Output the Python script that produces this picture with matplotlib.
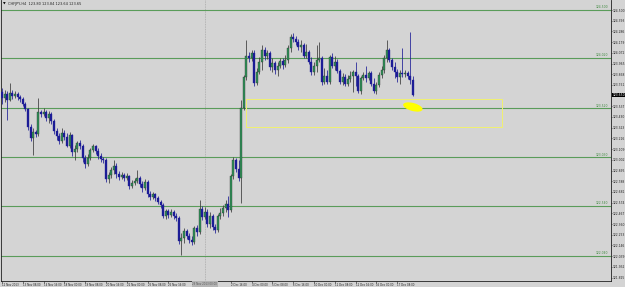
import matplotlib
matplotlib.use("Agg")
import matplotlib.pyplot as plt
from matplotlib.patches import Ellipse, Rectangle
from matplotlib.transforms import ScaledTranslation, blended_transform_factory
from matplotlib import font_manager

# ---------------- data (H4 candles) ----------------
opens = [123.68, 123.62, 123.66, 123.60, 123.67, 123.64, 123.66, 123.63, 123.61, 123.56,
         123.51, 123.33, 123.22, 123.28, 123.26, 123.48, 123.46, 123.48, 123.42, 123.46,
         123.39, 123.29, 123.24, 123.19, 123.27, 123.23, 123.14, 123.25, 123.08, 123.11,
         123.17, 123.14, 123.02, 122.96, 123.02, 123.10, 123.14, 123.09, 123.04, 123.01,
         123.00, 122.81, 122.85, 122.90, 122.94, 122.86, 122.83, 122.85, 122.82, 122.84,
         122.74, 122.77, 122.79, 122.82, 122.76, 122.72, 122.78, 122.66, 122.63, 122.66,
         122.62, 122.58, 122.55, 122.44, 122.49, 122.45, 122.48, 122.44, 122.42, 122.19,
         122.22, 122.29, 122.24, 122.20, 122.18, 122.32, 122.28, 122.51, 122.43, 122.48,
         122.36, 122.44, 122.33, 122.30, 122.44, 122.47, 122.52, 122.56, 122.50, 122.84,
         123.00, 122.91, 122.82, 123.52, 123.83, 124.04, 124.02, 124.07, 123.77, 123.88,
         123.98, 124.10, 124.04, 124.07, 123.93, 123.97, 123.90, 123.94, 123.99, 123.95,
         124.00, 124.12, 124.23, 124.21, 124.18, 124.13, 124.15, 124.04, 124.08, 123.98,
         123.88, 123.94, 124.00, 124.02, 123.78, 123.84, 123.78, 124.03, 123.94, 123.98,
         123.89, 123.78, 123.83, 123.76, 123.81, 123.84, 123.88, 123.84, 123.69, 123.82,
         123.85, 123.82, 123.87, 123.76, 123.69, 123.75, 123.85, 123.90, 124.02, 124.10,
         124.00, 123.93, 123.88, 123.83, 123.87, 123.86, 123.87, 123.84, 123.80]
highs = [123.72, 123.70, 123.69, 123.77, 123.70, 123.69, 123.68, 123.65, 123.63, 123.58,
         123.52, 123.36, 123.32, 123.30, 123.62, 123.50, 123.52, 123.50, 123.49, 123.48,
         123.41, 123.32, 123.27, 123.32, 123.30, 123.27, 123.28, 123.26, 123.15, 123.19,
         123.20, 123.16, 123.05, 123.06, 123.12, 123.16, 123.15, 123.12, 123.07, 123.03,
         123.02, 122.88, 122.93, 123.00, 122.97, 122.89, 122.88, 122.87, 122.87, 122.85,
         122.80, 122.82, 122.90, 122.84, 122.79, 122.81, 122.80, 122.69, 122.68, 122.67,
         122.64, 122.60, 122.57, 122.51, 122.51, 122.51, 122.50, 122.47, 122.44, 122.27,
         122.32, 122.31, 122.27, 122.24, 122.34, 122.35, 122.60, 122.54, 122.53, 122.51,
         122.48, 122.46, 122.36, 122.46, 122.52, 122.55, 122.60, 122.64, 122.86, 123.03,
         123.02, 123.00, 123.60, 123.85, 124.20, 124.08, 124.10, 124.10, 123.92, 124.03,
         124.15, 124.13, 124.10, 124.09, 124.02, 123.99, 123.98, 124.02, 124.02, 124.05,
         124.15, 124.26, 124.27, 124.24, 124.21, 124.20, 124.17, 124.16, 124.10, 124.03,
         123.98, 124.15, 124.18, 124.04, 123.92, 123.90, 124.05, 124.07, 124.04, 124.01,
         123.91, 123.87, 123.86, 123.85, 123.89, 123.90, 123.98, 123.86, 123.84, 123.88,
         123.94, 123.89, 123.89, 123.82, 123.78, 123.88, 123.94, 124.05, 124.20, 124.12,
         124.02, 123.98, 123.91, 123.90, 124.12, 123.90, 123.89, 124.28, 123.84]
lows = [123.56, 123.58, 123.40, 123.59, 123.61, 123.62, 123.60, 123.58, 123.54, 123.49,
        123.30, 123.19, 123.05, 123.23, 123.24, 123.43, 123.44, 123.39, 123.37, 123.36,
        123.26, 123.20, 123.16, 123.17, 123.20, 123.13, 123.12, 123.04, 123.00, 123.08,
        123.11, 122.98, 122.92, 122.94, 123.00, 123.08, 123.06, 123.01, 122.98, 122.97,
        122.78, 122.77, 122.82, 122.86, 122.82, 122.80, 122.81, 122.79, 122.80, 122.71,
        122.72, 122.75, 122.77, 122.73, 122.68, 122.70, 122.63, 122.60, 122.61, 122.59,
        122.56, 122.52, 122.42, 122.41, 122.42, 122.43, 122.41, 122.39, 122.16, 122.05,
        122.17, 122.21, 122.17, 122.15, 122.16, 122.24, 122.26, 122.40, 122.41, 122.33,
        122.32, 122.30, 122.27, 122.28, 122.41, 122.44, 122.48, 122.43, 122.48, 122.81,
        122.88, 122.79, 122.57, 123.50, 123.80, 123.98, 123.99, 123.74, 123.75, 123.86,
        123.90, 124.00, 124.01, 123.90, 123.88, 123.86, 123.84, 123.92, 123.91, 123.93,
        123.97, 124.08, 124.18, 124.15, 124.10, 124.08, 124.02, 124.02, 123.96, 123.85,
        123.85, 123.88, 123.98, 123.75, 123.76, 123.76, 123.76, 123.92, 123.90, 123.87,
        123.76, 123.75, 123.74, 123.74, 123.78, 123.68, 123.74, 123.67, 123.66, 123.80,
        123.78, 123.80, 123.74, 123.67, 123.66, 123.73, 123.82, 123.87, 123.98, 123.98,
        123.90, 123.82, 123.78, 123.76, 123.83, 123.83, 123.81, 123.76, 123.64]
closes = [123.62, 123.66, 123.60, 123.67, 123.64, 123.66, 123.63, 123.61, 123.56, 123.51,
          123.33, 123.22, 123.28, 123.26, 123.48, 123.46, 123.48, 123.42, 123.46, 123.39,
          123.29, 123.24, 123.19, 123.27, 123.23, 123.14, 123.25, 123.08, 123.11, 123.17,
          123.14, 123.02, 122.96, 123.02, 123.10, 123.14, 123.09, 123.04, 123.01, 123.00,
          122.81, 122.85, 122.90, 122.94, 122.86, 122.83, 122.85, 122.82, 122.84, 122.74,
          122.77, 122.79, 122.82, 122.76, 122.72, 122.78, 122.66, 122.63, 122.66, 122.62,
          122.58, 122.55, 122.44, 122.49, 122.45, 122.48, 122.44, 122.42, 122.19, 122.22,
          122.29, 122.24, 122.20, 122.18, 122.32, 122.28, 122.51, 122.43, 122.48, 122.36,
          122.44, 122.33, 122.30, 122.44, 122.47, 122.52, 122.56, 122.50, 122.84, 123.00,
          122.91, 122.82, 123.52, 123.83, 124.04, 124.02, 124.07, 123.77, 123.88, 123.98,
          124.10, 124.04, 124.07, 123.93, 123.97, 123.90, 123.94, 123.99, 123.95, 124.00,
          124.12, 124.23, 124.21, 124.18, 124.13, 124.15, 124.04, 124.08, 123.98, 123.88,
          123.94, 124.00, 124.02, 123.78, 123.84, 123.78, 124.03, 123.94, 123.98, 123.89,
          123.78, 123.83, 123.76, 123.81, 123.84, 123.88, 123.84, 123.69, 123.82, 123.85,
          123.82, 123.87, 123.76, 123.69, 123.75, 123.85, 123.90, 124.02, 124.10, 124.00,
          123.93, 123.88, 123.83, 123.87, 123.86, 123.87, 123.84, 123.80, 123.65]

date_labels = ["12 Nov 2013", "13 Nov 08:00", "14 Nov 16:00", "18 Nov 00:00", "19 Nov 08:00",
               "20 Nov 16:00", "22 Nov 00:00", "25 Nov 08:00", "26 Nov 16:00",
               "2 Dec 16:00", "4 Dec 00:00", "5 Dec 08:00", "6 Dec 16:00",
               "10 Dec 00:00", "11 Dec 08:00", "12 Dec 16:00", "16 Dec 00:00", "17 Dec 08:00"]
date_label_bars = [0, 8, 16, 24, 32, 40, 48, 56, 64, 88, 96, 104, 112, 120, 128, 136, 144, 152]

price_ticks = [124.500, 124.393, 124.286, 124.179, 124.072, 123.965, 123.858, 123.751,
               123.644, 123.537, 123.430, 123.323, 123.216, 123.109, 123.002, 122.895,
               122.788, 122.681, 122.574, 122.467, 122.360, 122.253, 122.146, 122.039,
               121.932, 121.825]
hline_prices = [124.50, 124.02, 123.52, 123.03, 122.54, 122.04]
zone_bars = [93.8, 192.3]
zone_prices = [123.33, 123.61]
marker_bar = 158
marker_price = 123.53
vline_bar = 78
vline_label = "29 Nov 2013 00:00"
symbol_title = "CHFJPY,H4  123.80 123.84 123.64 123.65"

# ---------------- fonts ----------------
available = {f.name for f in font_manager.fontManager.ttflist}
FAM = [f for f in ["Liberation Sans Narrow", "DejaVu Sans"] if f in available] or ["DejaVu Sans"]
plt.rcParams["font.family"] = FAM
xsize = 1.9
ysize = 2.2

# ---------------- figure ----------------
BG = "#d4d4d4"
fig = plt.figure(figsize=(6.25, 2.87), dpi=100, facecolor=BG)
ax = fig.add_axes([1 / 625, 6 / 287, 610 / 625, 281 / 287], facecolor=BG)

n = len(closes)
xs = list(range(n))
bull_face, bear_face = "#2f9358", "#1c1c96"
bull_wick, bear_wick = "#3a3a3a", "#1c1c96"
for i in xs:
    o, h, l, c = opens[i], highs[i], lows[i], closes[i]
    up = c >= o
    ax.vlines(i, l, h, color=bull_wick if up else bear_wick, lw=0.55, zorder=3)
    ax.bar(i, max(abs(c - o), 0.006), bottom=min(o, c), width=0.78,
           color=bull_face if up else bear_face,
           edgecolor="#2a2a2a" if up else bear_face, linewidth=0.25, zorder=4)

# horizontal levels
yt = blended_transform_factory(ax.transAxes, ax.transData)
for p in hline_prices:
    ax.axhline(p, color="#5a9c5a", lw=0.8, zorder=2)
    ax.text(0.995, p + 0.005, f"{p:.3f}", transform=yt,
            ha="right", va="bottom", fontsize=2.2, color="#3f8a3f", zorder=5)

# yellow zone rectangle
ax.add_patch(Rectangle((zone_bars[0], zone_prices[0]), zone_bars[1] - zone_bars[0],
                       zone_prices[1] - zone_prices[0], fill=False,
                       edgecolor="#f0f070", lw=0.7, zorder=3))

# yellow highlight ellipse (pixel-sized, anchored at a data point)
trans = fig.dpi_scale_trans + ScaledTranslation(marker_bar, marker_price, ax.transData)
ax.add_patch(Ellipse((0, 0), width=0.20, height=0.08, angle=-15,
                     facecolor="#ffff00", edgecolor="none", transform=trans, zorder=6))

# dotted vertical line
ax.axvline(vline_bar, color="#a8a8a8", lw=0.6, ls=(0, (1, 1)), zorder=1)

ax.set_xlim(-0.38, 234.2)
ax.set_ylim(121.79, 124.60)

for s in ax.spines.values():
    s.set_color("#202020")
    s.set_linewidth(0.6)
ax.spines["top"].set_visible(False)

ax.set_xticks(date_label_bars)
ax.set_xticklabels(date_labels)
ax.tick_params(axis="x", length=1.2, width=0.4, pad=0.5, labelsize=xsize, colors="#202020")
for t in ax.get_xticklabels():
    t.set_ha("left")

ax.yaxis.tick_right()
ax.set_yticks(price_ticks)
ax.set_yticklabels([f"{v:.3f}" for v in price_ticks])
ax.tick_params(axis="y", length=1.0, width=0.4, pad=0.5, labelsize=ysize, colors="#202020")

# vertical-line date box on the time axis
ax.text(vline_bar, -0.004, vline_label, transform=blended_transform_factory(ax.transData, ax.transAxes),
        ha="center", va="top", fontsize=xsize, color="#555555", clip_on=False, zorder=10,
        bbox=dict(facecolor="#b4b4b4", edgecolor="none", pad=0.6))

# current price box
ax.text(1.002, closes[-1], f"{closes[-1]:.3f}", transform=yt,
        ha="left", va="center", fontsize=ysize, color="white", clip_on=False, zorder=10,
        bbox=dict(facecolor="black", edgecolor="none", pad=0.3))

# symbol title
ax.text(0.003, 0.993, "\u25bc", transform=ax.transAxes, ha="left", va="top", fontsize=2.5,
        color="black", family=["DejaVu Sans"])
ax.text(0.011, 0.993, symbol_title, transform=ax.transAxes, ha="left", va="top",
        fontsize=2.5, color="#202020")

fig.savefig("out.png", dpi=100, facecolor=BG)
